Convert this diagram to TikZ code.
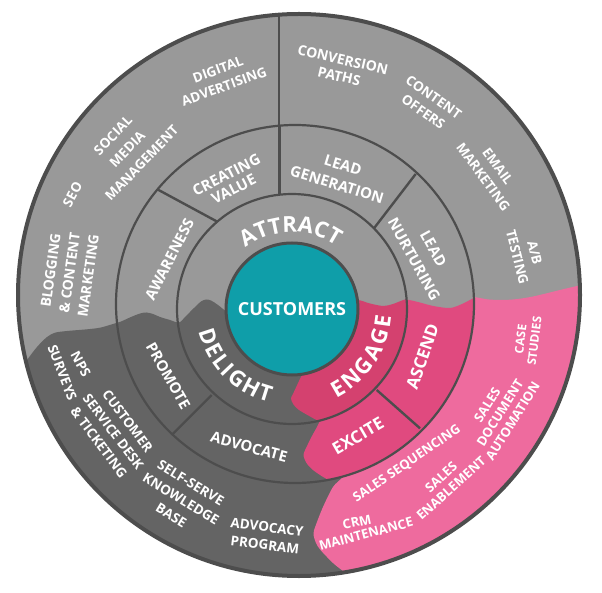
\documentclass[tikz,border=0pt]{standalone}
\usepackage{fontspec}
\setmainfont{Open Sans}
\usetikzlibrary{decorations.text}
\definecolor{cLight}{HTML}{999999}
\definecolor{cDark}{HTML}{646464}
\definecolor{cBord}{HTML}{4D4D4D}
\definecolor{cEng}{HTML}{D4416F}
\definecolor{cMid}{HTML}{E04A7F}
\definecolor{cOut}{HTML}{EE6B9E}
\definecolor{cTeal}{HTML}{0F9EA9}
\newcommand\bigfnt{\bfseries\fontsize{22}{22}\selectfont}
\begin{document}
\begin{tikzpicture}[x=1pt,y=1pt,
  olbl/.style={text=white, font=\bfseries\fontsize{13.5}{18}\selectfont, align=center, inner sep=0pt},
  mlbl/.style={text=white, font=\bfseries\fontsize{15}{19}\selectfont, align=center, inner sep=0pt},
  divider/.style={draw=cBord, line width=2.4pt},
  ringline/.style={draw=cBord, line width=2.2pt},
  bigtext/.style={decorate, decoration={text along path, text={|\bigfnt|#1}, text color=white, text align={fit to path}}}]
\useasboundingbox (0,0) rectangle (602,-593);
\coordinate (Oo) at (299,-295);
\coordinate (Om) at (295,-304);
\coordinate (Oi) at (292,-309);

% ---------- outer ring ----------
\begin{scope}
\clip (Oo) circle[radius=281];
\fill[cLight] (0,0) rectangle (602,-593);
\fill[cDark] (0,-380) -- (15,-375) -- plot[smooth,tension=0.5] coordinates {(22,-368) (27,-360) (37,-347) (47,-337) (55,-332.7) (67,-331) (87,-329.3) (100,-327.7) (113,-324) (121,-321.5) (131,-317) (140,-313.5) (146.5,-312.5) (153,-314) (160,-317) (170,-320) (179,-322.5) (186,-316) (194,-308) (201,-301.5) (206,-299.5) (211,-300.5) (218,-305) (228,-313) (240,-322)} -- (300,-360) -- (450,-600) -- (0,-600) -- cycle;
\fill[cOut] plot[smooth,tension=0.5] coordinates {(352,-466) (343,-477) (333,-487) (323,-507) (315.5,-526) (313.5,-534) (316,-543) (320.5,-550) (333,-563) (343,-571) (352,-578)} -- (360,-600) -- (610,-600) -- (610,-283) -- plot[smooth,tension=0.5] coordinates {(590,-283.5) (577,-286) (560,-290) (533,-296.5) (515,-299.3) (500,-300) (487,-299.3) (477,-297.5) (465,-297)} -- cycle;
\end{scope}

% ---------- middle ring ----------
\begin{scope}
\clip (Om) circle[radius=179];
\fill[cLight] (0,0) rectangle (602,-593);
\fill[cDark] (0,-380) -- (15,-375) -- plot[smooth,tension=0.5] coordinates {(22,-368) (27,-360) (37,-347) (47,-337) (55,-332.7) (67,-331) (87,-329.3) (100,-327.7) (113,-324) (121,-321.5) (131,-317) (140,-313.5) (146.5,-312.5) (153,-314) (160,-317) (170,-320) (179,-322.5) (186,-316) (194,-308) (201,-301.5) (206,-299.5) (211,-300.5) (218,-305) (228,-313) (240,-322)} -- (300,-360) -- (450,-600) -- (0,-600) -- cycle;
\fill[cMid] plot[smooth,tension=0.5] coordinates {(324,-412) (318,-425) (312,-436) (306.7,-446.7) (303.5,-455) (306.7,-463.3) (313,-470) (320,-475) (328.3,-480) (340,-487)} -- (350,-500) -- (520,-500) -- (520,-296) -- plot[smooth,tension=0.5] coordinates {(480,-296) (473.3,-298.3) (462,-304) (450,-308) (433.3,-306) (418,-302) (406,-299.5) (395,-300)} -- cycle;
\end{scope}

% ---------- inner ring ----------
\begin{scope}
\clip (Oi) circle[radius=115];
\fill[cLight] (0,0) rectangle (602,-593);
\fill[cDark] (0,-380) -- (15,-375) -- plot[smooth,tension=0.5] coordinates {(22,-368) (27,-360) (37,-347) (47,-337) (55,-332.7) (67,-331) (87,-329.3) (100,-327.7) (113,-324) (121,-321.5) (131,-317) (140,-313.5) (146.5,-312.5) (153,-314) (160,-317) (170,-320) (179,-322.5) (186,-316) (194,-308) (201,-301.5) (206,-299.5) (211,-300.5) (218,-305) (228,-313) (240,-322)} -- (300,-360) -- (450,-600) -- (0,-600) -- cycle;
\fill[cEng] plot[smooth,tension=0.5] coordinates {(310,-357) (305,-368.3) (299,-381) (293.3,-393.3) (291,-398.5) (293.5,-404.5) (299,-410) (313.3,-418.3) (322,-423) (333,-430)} -- (420,-430) -- (420,-297) -- plot[smooth,tension=0.5] coordinates {(412,-298) (403.3,-300) (393,-304) (383.3,-306) (370,-303.5) (358.3,-300) (345,-300)} -- cycle;
\end{scope}

% ---------- centre ----------
\fill[cTeal] (Oi) circle[radius=66];

% ---------- dividers ----------
\coordinate (d1a) at (279,-13); \coordinate (d1b) at (279,-126);
\coordinate (d2a) at (279.5,-125); \coordinate (d2b) at (279.5,-195);
\coordinate (d3a) at (157.3,-189.3); \coordinate (d3b) at (217.3,-221.7);
\coordinate (d4a) at (415.7,-174); \coordinate (d4b) at (374,-228.3);
\coordinate (d5a) at (376.7,-390); \coordinate (d5b) at (420,-428.3);
\coordinate (d6a) at (211.7,-395); \coordinate (d6b) at (171.7,-435);
\draw[divider] (d1a) -- (d1b);
\draw[divider] (d2a) -- (d2b);
\draw[divider] (d3a) -- (d3b);
\draw[divider] (d4a) -- (d4b);
\draw[divider] (d5a) -- (d5b);
\draw[divider] (d6a) -- (d6b);

% ---------- ring outlines ----------
\draw[ringline] (Om) circle[radius=179];
\draw[ringline] (Oi) circle[radius=115];
\draw[draw=cBord, line width=3pt] (Oi) circle[radius=66];
\draw[draw=cBord, line width=4pt] (Oo) circle[radius=281];

% ---------- centre text ----------
\node[text=white, font=\bfseries\fontsize{18}{18}\selectfont, inner sep=0pt] (cust) at (Oi) {CUSTOMERS};

% ---------- inner ring texts ----------
\path[bigtext=ATTRACT] (245.35,-247.99) arc[start angle=127.4, end angle=57.8, radius=76.8];
\path[bigtext=DELIGHT] (198.61,-331.25) arc[start angle=193.4, end angle=256.3, radius=96];
\path[bigtext=ENGAGE] (336.4,-398.04) arc[start angle=-63.5, end angle=-4.4, radius=99.5];

% ---------- middle ring texts ----------
\node[mlbl, rotate=63] (aware) at (169.5,-259.3) {AWARENESS};
\node[mlbl, rotate=27, font=\bfseries\fontsize{15}{16}\selectfont] (create) at (230,-182) {CREATING\\VALUE};
\node[mlbl, rotate=-17, font=\bfseries\fontsize{15}{20}\selectfont] (leadgen) at (340,-175) {LEAD\\GENERATION};
\node[mlbl, rotate=-61, font=\bfseries\fontsize{15}{22}\selectfont] (leadnur) at (423.7,-254) {LEAD\\NURTURING};
\node[mlbl, rotate=-60.5] (promote) at (168.3,-375.8) {PROMOTE};
\node[mlbl, rotate=-15] (advocate) at (249,-447) {ADVOCATE};
\node[mlbl, rotate=71, font=\bfseries\fontsize{17}{19}\selectfont] (ascend) at (422.5,-356.7) {ASCEND};
\node[mlbl, rotate=30, font=\bfseries\fontsize{17}{19}\selectfont] (excite) at (358,-436) {EXCITE};

% ---------- outer ring texts ----------
\node[olbl, rotate=20] (digital) at (221,-78) {DIGITAL\\ADVERTISING};
\node[olbl, rotate=46, font=\bfseries\fontsize{13.5}{20}\selectfont] (social) at (127.3,-149.3) {SOCIAL\\MEDIA\\MANAGEMENT};
\node[olbl, rotate=62] (seo) at (72.5,-194.5) {SEO};
\node[olbl, rotate=82, font=\bfseries\fontsize{14}{19}\selectfont] (blog) at (69.5,-273) {BLOGGING\\\& CONTENT\\MARKETING};
\node[olbl, rotate=-13, font=\bfseries\fontsize{14}{17}\selectfont] (conv) at (341,-68) {CONVERSION\\PATHS};
\node[olbl, rotate=-35] (offers) at (428.5,-104.5) {CONTENT\\OFFERS};
\node[olbl, rotate=-54] (email) at (490.5,-171.5) {EMAIL\\MARKETING};
\node[olbl, rotate=-76] (ab) at (526,-255) {A/B\\TESTING};
\node[olbl, rotate=83, font=\bfseries\fontsize{12}{14}\selectfont] (case) at (527.5,-340) {CASE\\STUDIES};
\node[olbl, rotate=58, font=\bfseries\fontsize{13}{15}\selectfont] (sdoc) at (500,-413) {SALES\\DOCUMENT\\AUTOMATION};
\node[olbl, rotate=34, font=\bfseries\fontsize{13}{15}\selectfont] (sseq) at (407,-464) {SALES SEQUENCING};
\node[olbl, rotate=42, font=\bfseries\fontsize{13}{15}\selectfont] (senab) at (446,-482.5) {SALES\\ENABLEMENT};
\node[olbl, rotate=12, font=\bfseries\fontsize{13}{15}\selectfont] (crm) at (357,-522) {CRM};
\node[olbl, rotate=15, font=\bfseries\fontsize{13}{15}\selectfont] (maint) at (366,-534) {MAINTENANCE};
\node[olbl, rotate=-62] (nps) at (80.7,-364) {NPS};
\node[olbl, rotate=-69] (surveys) at (62.3,-372.7) {SURVEYS};
\node[olbl, rotate=-53] (custsd) at (113.3,-431.7) {CUSTOMER\\SERVICE DESK\\\& TICKETING};
\node[olbl, rotate=-31, font=\bfseries\fontsize{13.5}{19}\selectfont] (selfserve) at (181,-499) {SELF-SERVE\\KNOWLEDGE\\BASE};
\node[olbl, rotate=-7] (advprog) at (266,-536) {ADVOCACY\\PROGRAM};
\end{tikzpicture}
\end{document}
